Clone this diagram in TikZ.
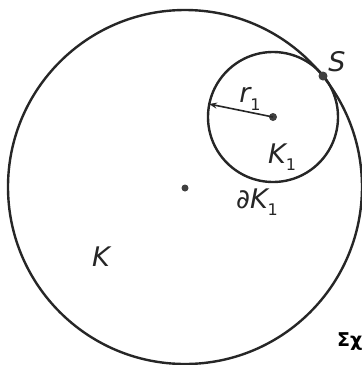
\documentclass[tikz,border=0pt]{standalone}
\usepackage{fontspec}
\setsansfont{DejaVu Sans}
\usetikzlibrary{arrows.meta}
\newcommand{\lbsub}[1]{\raisebox{-0.5ex}{\fontsize{16}{16}\selectfont\upshape #1}}
\tikzset{
  curve/.style={line width=2.4pt, draw=black!85},
  dotpt/.style={circle, fill=black!75, inner sep=0pt, minimum size=#1},
  lbl/.style={font=\fontsize{27}{27}\selectfont\sffamily\itshape, inner sep=0pt, text=black!85},
}
\begin{document}
\begin{tikzpicture}[x=1pt,y=-1pt]
\useasboundingbox (0,0) rectangle (362,365);
\clip (0,0) rectangle (362,365);
\fill[white] (0,0) rectangle (362,365);
% centers
\coordinate (O) at (185,187);
\coordinate (C1) at (273,117);
\coordinate (A) at (209,104);
% circles
\draw[curve] (O) circle (177pt);
\draw[curve] (C1) circle (65pt);
% dots
\node[dotpt=7pt] (o) at (185,188) {};
\node[dotpt=8pt] (c1) at (C1) {};
\node[dotpt=9pt] (s) at (323,76) {};
% radius arrow
\draw[line width=1.6pt, draw=black!85, -{Stealth[length=8pt,width=6pt]}] (c1.center) -- (A);
% labels
\node[lbl] (lS) at (337,62) {S};
\node[lbl] (lr) at (250,99) {r\lbsub{1}};
\node[lbl] (lK1) at (282,157) {K\lbsub{1}};
\node[lbl] (ldK) at (257,202) {∂K\lbsub{1}};
\node[lbl] (lK) at (101,257) {K};
\node[anchor=west, inner sep=0pt, font=\fontsize{19}{19}\selectfont\bfseries\sffamily] (cap) at (337,342) {Σχ};
\end{tikzpicture}
\end{document}
